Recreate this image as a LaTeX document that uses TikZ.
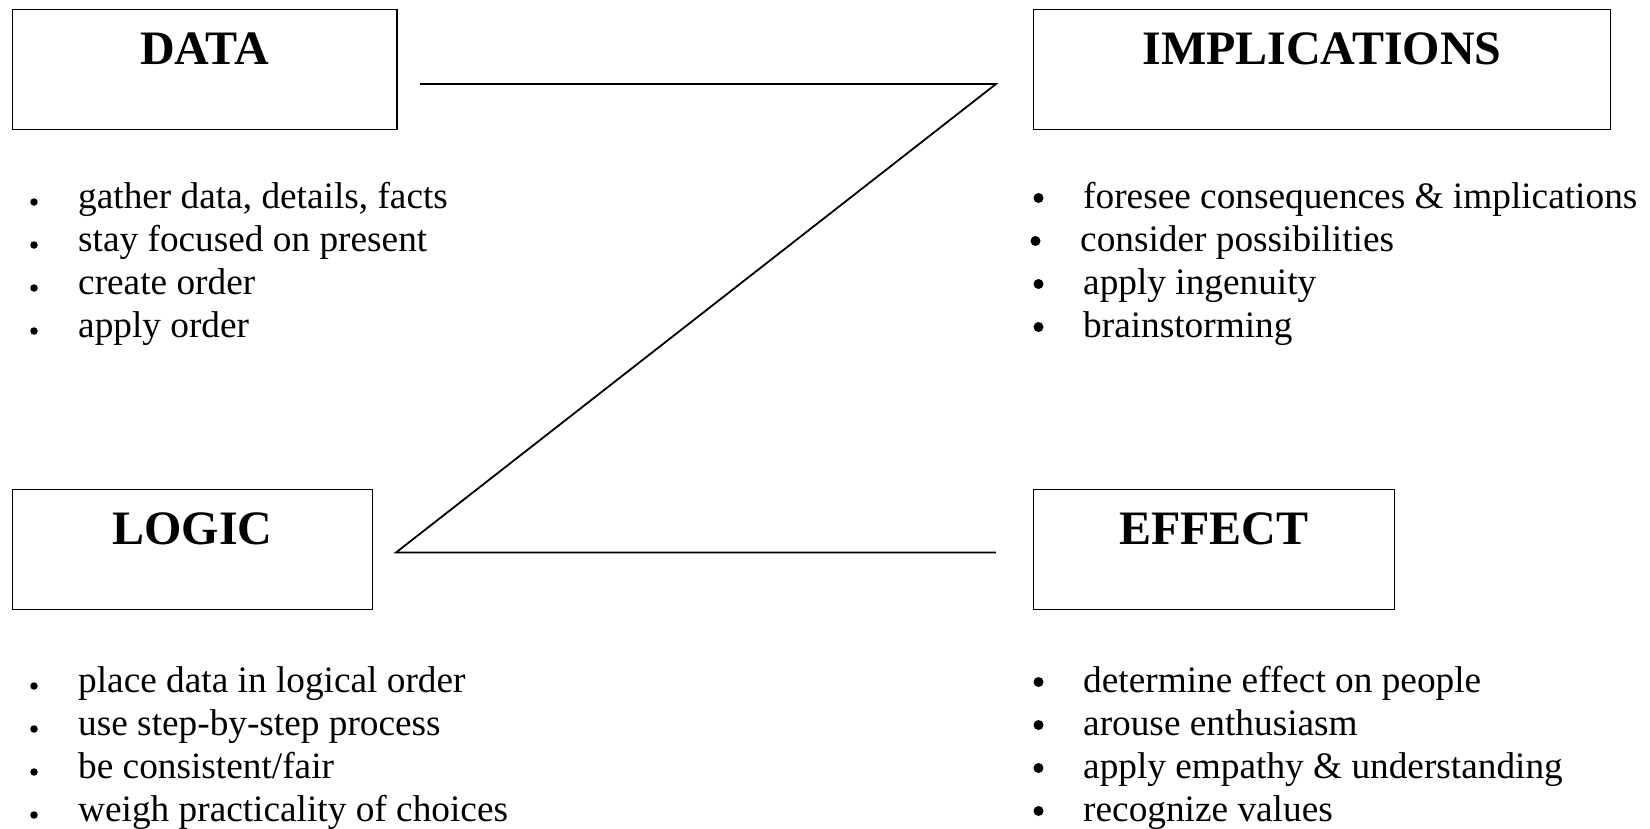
\documentclass[tikz,border=0pt]{standalone}
\usepackage{fontspec}
\setmainfont{Liberation Serif}
\usetikzlibrary{calc}
\begin{document}
\begin{tikzpicture}[x=1pt,y=-1pt,
  box/.style={draw,line width=1.8pt,rectangle,inner sep=0pt,anchor=north west},
  ttl/.style={anchor=base,inner sep=0pt,font=\fontsize{48}{48}\selectfont\bfseries},
  itm/.style={anchor=base west,inner sep=0pt,font=\fontsize{37.3}{40}\selectfont},
  sdot/.style={fill=black,draw=none,circle,inner sep=0pt,minimum size=7.5pt},
  bdot/.style={fill=black,draw=none,circle,inner sep=0pt,minimum size=10pt},
  zline/.style={line width=1.8pt,line join=miter}]
\useasboundingbox (0,0) rectangle (1650,828);
% boxes
\node[box,minimum width=384.5pt,minimum height=120pt] (data) at (11.5,8.5) {};
\node[box,minimum width=577pt,minimum height=120pt] (impl) at (1032.5,8.5) {};
\node[box,minimum width=360pt,minimum height=120pt] (logic) at (11.5,488.5) {};
\node[box,minimum width=361pt,minimum height=120pt] (effect) at (1032.5,488.5) {};
% titles
\node[ttl] (datat) at ($(data.north)+(0,56)$) {DATA};
\node[ttl] (implt) at ($(impl.north)+(0,56)$) {IMPLICATIONS};
\node[ttl] (logict) at ($(logic.north)+(0,56)$) {LOGIC};
\node[ttl] (effectt) at ($(effect.north)+(0,56)$) {EFFECT};
% Z connector
\coordinate (z1) at (420,84);
\coordinate (z2) at (996,84);
\coordinate (z3) at (396,552.5);
\coordinate (z4) at (996,552.5);
\draw[zline] (z1) -- (z2) -- (z3) -- (z4);
% DATA list
\foreach \t [count=\i] in {{gather data, details, facts},{stay focused on present},{create order},{apply order}}{
  \node[itm] (d\i) at (78,{208+43*(\i-1)}) {\t};
  \node[sdot] (db\i) at (34,{202+43*(\i-1)}) {};
}
% LOGIC list
\foreach \t [count=\i] in {{place data in logical order},{use step-by-step process},{be consistent/fair},{weigh practicality of choices}}{
  \node[itm] (l\i) at (78,{692+43*(\i-1)}) {\t};
  \node[sdot] (lb\i) at (34,{686+43*(\i-1)}) {};
}
% IMPLICATIONS list
\node[itm] (i1) at (1083,208) {foresee consequences \& implications};
\node[bdot] (ib1) at (1038.5,198) {};
\node[itm] (i2) at (1080,251) {consider possibilities};
\node[bdot] (ib2) at (1035.5,241) {};
\node[itm] (i3) at (1083,294) {apply ingenuity};
\node[bdot] (ib3) at (1038.5,284) {};
\node[itm] (i4) at (1083,337) {brainstorming};
\node[bdot] (ib4) at (1038.5,327) {};
% EFFECT list
\foreach \t [count=\i] in {{determine effect on people},{arouse enthusiasm},{apply empathy \& understanding},{recognize values}}{
  \node[itm] (e\i) at (1083,{692+43*(\i-1)}) {\t};
  \node[bdot] (eb\i) at (1038.5,{682+43*(\i-1)}) {};
}
\end{tikzpicture}
\end{document}
